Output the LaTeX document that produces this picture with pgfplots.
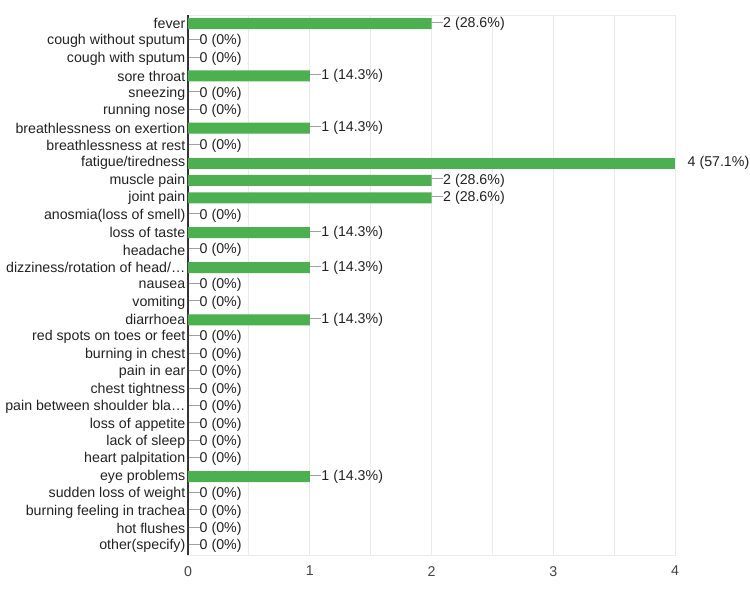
\documentclass[border=0pt]{standalone}
\usepackage{pgfplots}
\pgfplotsset{compat=1.18}
\usepackage{pgfplotstable}
\usepackage{fontspec}
\setmainfont{Liberation Sans}
\definecolor{barg}{RGB}{76,175,80}
\definecolor{gridc}{RGB}{235,235,235}
\definecolor{axc}{RGB}{51,51,51}
\definecolor{txt}{RGB}{34,34,34}
\definecolor{tickc}{RGB}{68,68,68}
\definecolor{connc}{RGB}{160,160,160}

% answers with a connector line to their label
\pgfplotstableread{
idx val pct
0 2 28.6
1 0 0
2 0 0
3 1 14.3
4 0 0
5 0 0
6 1 14.3
7 0 0
9 2 28.6
10 2 28.6
11 0 0
12 1 14.3
13 0 0
14 1 14.3
15 0 0
16 0 0
17 1 14.3
18 0 0
19 0 0
20 0 0
21 0 0
22 0 0
23 0 0
24 0 0
25 0 0
26 1 14.3
27 0 0
28 0 0
29 0 0
30 0 0
}\datatable
% the full-width bar, label without connector
\pgfplotstableread{
idx val pct
8 4 57.1
}\maxtable

\begin{document}
\begin{tikzpicture}[x=1pt,y=1pt]
\path[use as bounding box] (0,0) rectangle (750,590);
\begin{axis}[
  at={(188pt,35pt)}, anchor=south west,
  scale only axis, width=487pt, height=540pt,
  xbar, bar width=11pt, bar shift=0pt,
  xmin=0, xmax=4, ymin=-0.5, ymax=30.5, y dir=reverse,
  xtick={0,1,2,3,4}, minor xtick={0.5,1.5,2.5,3.5},
  xmajorgrids, xminorgrids,
  major grid style={draw=gridc, line width=1pt},
  minor grid style={draw=gridc, line width=1pt},
  axis line style={draw=gridc, line width=1pt},
  major tick length=0pt, minor tick length=0pt,
  extra x ticks={0}, extra x tick labels={},
  extra x tick style={major grid style={draw=axc, line width=1.2pt}},
  ytick={0,...,30},
  yticklabels={fever,cough without sputum,cough with sputum,sore throat,sneezing,running nose,breathlessness on exertion,breathlessness at rest,fatigue/tiredness,muscle pain,joint pain,anosmia(loss of smell),loss of taste,headache,dizziness/rotation of head/…,nausea,vomiting,diarrhoea,red spots on toes or feet,burning in chest,pain in ear,chest tightness,pain between shoulder bla…,loss of appetite,lack of sleep,heart palpitation,eye problems,sudden loss of weight,burning feeling in trachea,hot flushes,other(specify)},
  yticklabel style={font=\fontsize{14.2}{17}\selectfont, text=txt, inner sep=0pt, xshift=-2.5pt},
  xticklabel style={font=\fontsize{14.2}{17}\selectfont, text=tickc, inner sep=0pt, yshift=-11pt},
  /pgf/number format/assume math mode=true,
  point meta=explicit symbolic,
  nodes near coords style={font=\fontsize{14.2}{17}\selectfont, text=txt, inner sep=0pt, anchor=west, xshift=0.5pt},
  clip=false,
]
\addplot[fill=barg, draw=none,
  nodes near coords={\textcolor{connc}{\rule[0.33em]{11pt}{1pt}}\pgfmathprintnumber{\pgfkeysvalueof{/data point/x}} (\pgfplotspointmeta\%)}]
  table[x=val, y=idx, meta=pct] {\datatable};
\addplot[fill=barg, draw=none,
  nodes near coords={\hspace{12pt}\pgfmathprintnumber{\pgfkeysvalueof{/data point/x}} (\pgfplotspointmeta\%)}]
  table[x=val, y=idx, meta=pct] {\maxtable};
\end{axis}
\end{tikzpicture}
\end{document}
